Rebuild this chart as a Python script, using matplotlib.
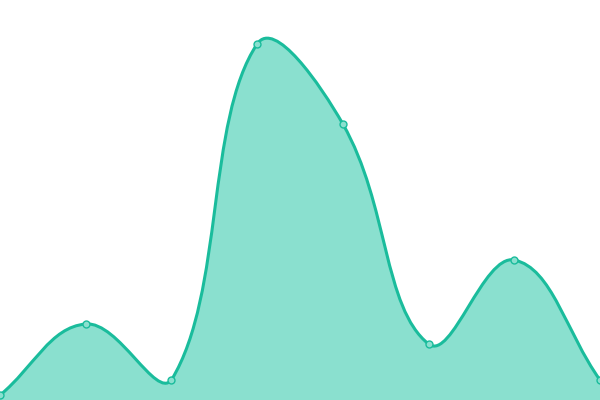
import numpy as np
import matplotlib
matplotlib.use('Agg')
import matplotlib.pyplot as plt
from matplotlib.path import Path
from matplotlib.patches import PathPatch

# data
labels = ['A', 'B', 'C', 'D', 'E', 'F', 'G', 'H']
values = [1.2, 19, 5, 89, 69, 14, 35, 5]

LINE_C = '#1abc9c'
FILL_C = '#8ae0cf'
TENSION = 0.4
Y_MAX = 100

fig = plt.figure(figsize=(6, 4), dpi=100)
ax = fig.add_axes([0, 0, 1, 1])
ax.set_xlim(0, len(values) - 1)
ax.set_ylim(0, Y_MAX)
ax.axis('off')

# work in pixel space so the spline matches a canvas-style renderer
x = np.arange(len(values), dtype=float)
y = np.array(values, dtype=float)
pts = ax.transData.transform(np.column_stack([x, y]))
H = fig.bbox.height


def control_points(p):
    n = len(p)
    c1 = np.zeros_like(p)
    c2 = np.zeros_like(p)
    for i in range(n):
        prev = p[i - 1] if i > 0 else p[i]
        nxt = p[i + 1] if i < n - 1 else p[i]
        d01 = np.hypot(*(p[i] - prev))
        d12 = np.hypot(*(nxt - p[i]))
        tot = d01 + d12
        s01 = d01 / tot if tot else 0
        s12 = d12 / tot if tot else 0
        fa = TENSION * s01
        fb = TENSION * s12
        c1[i] = p[i] - fa * (nxt - prev)
        c2[i] = p[i] + fb * (nxt - prev)
    c1[:, 1] = np.clip(c1[:, 1], 0, H)
    c2[:, 1] = np.clip(c2[:, 1], 0, H)
    return c1, c2


c1, c2 = control_points(pts)
inv = ax.transData.inverted()
verts = [pts[0]]
codes = [Path.MOVETO]
for i in range(len(pts) - 1):
    verts += [c2[i], c1[i + 1], pts[i + 1]]
    codes += [Path.CURVE4] * 3
verts = inv.transform(np.array(verts))

line_path = Path(verts, codes)
fill_verts = np.vstack([verts, [[x[-1], 0], [x[0], 0], verts[0]]])
fill_codes = codes + [Path.LINETO, Path.LINETO, Path.CLOSEPOLY]
ax.add_patch(PathPatch(Path(fill_verts, fill_codes), facecolor=FILL_C,
                       edgecolor='none', zorder=1))
ax.add_patch(PathPatch(line_path, facecolor='none', edgecolor=LINE_C,
                       lw=2.2, zorder=2, capstyle='round', joinstyle='round'))
ax.plot(x, y, 'o', ms=5, mfc=FILL_C, mec=LINE_C, mew=1, zorder=3,
        clip_on=False)

fig.savefig('out.png', dpi=100, facecolor='white')
